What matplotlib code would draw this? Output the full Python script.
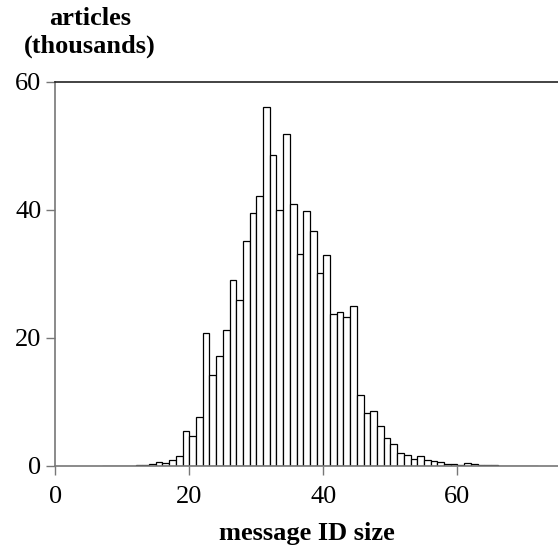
import matplotlib
matplotlib.use("Agg")
import matplotlib.pyplot as plt

plt.rcParams["font.family"] = ["Liberation Serif", "DejaVu Serif"]

# message ID size (left edge of each bin) and article counts in thousands
sizes = list(range(7, 72))
counts = [0.02, 0.02, 0.0, 0.05, 0.05, 0.1, 0.2, 0.3, 0.55, 0.4,
          0.9, 1.5, 5.4, 4.6, 7.7, 20.7, 14.2, 17.2, 21.2, 29.1,
          25.9, 35.1, 39.5, 42.1, 56.1, 48.5, 40.0, 51.9, 40.9, 33.1,
          39.8, 36.7, 30.2, 32.9, 23.7, 24.0, 23.2, 25.0, 11.1, 8.2,
          8.6, 6.3, 4.3, 3.5, 2.0, 1.77, 1.04, 1.5, 1.0, 0.78,
          0.57, 0.36, 0.26, 0.2, 0.5, 0.26, 0.15, 0.1, 0.1, 0.05,
          0.05, 0.04, 0.04, 0.03, 0.03]
xticks = [0, 20, 40, 60]
yticks = [0, 20, 40, 60]

fig = plt.figure(figsize=(5.58, 5.56), dpi=100)
ax = fig.add_axes([0.099, 0.162, 0.901, 0.691])

ax.bar(sizes, counts, width=1.0, align="edge", color="white",
       edgecolor="black", linewidth=0.9)

ax.set_xlim(0, 75)
ax.set_ylim(0, 60)
ax.set_xticks(xticks)
ax.set_yticks(yticks)
ax.tick_params(direction="out", length=6.5, width=1, colors="#777777",
               labelcolor="black", labelsize=19)
ax.tick_params(axis="x", pad=8)
ax.tick_params(axis="y", pad=3.5)

for s in ["left", "bottom"]:
    ax.spines[s].set_color("#777777")
    ax.spines[s].set_linewidth(1.2)
ax.spines["top"].set_color("#222222")
ax.spines["top"].set_linewidth(1.2)
ax.spines["right"].set_visible(False)

fig.text(90 / 558, 1 - 25 / 556, "articles", ha="center", va="baseline",
         fontsize=19, fontweight="bold")
fig.text(90 / 558, 1 - 53 / 556, "(thousands)", ha="center", va="baseline",
         fontsize=19, fontweight="bold")
fig.text(307 / 558, 1 - 540 / 556, "message ID size", ha="center",
         va="baseline", fontsize=19, fontweight="bold")

fig.savefig("out.png", dpi=100)
